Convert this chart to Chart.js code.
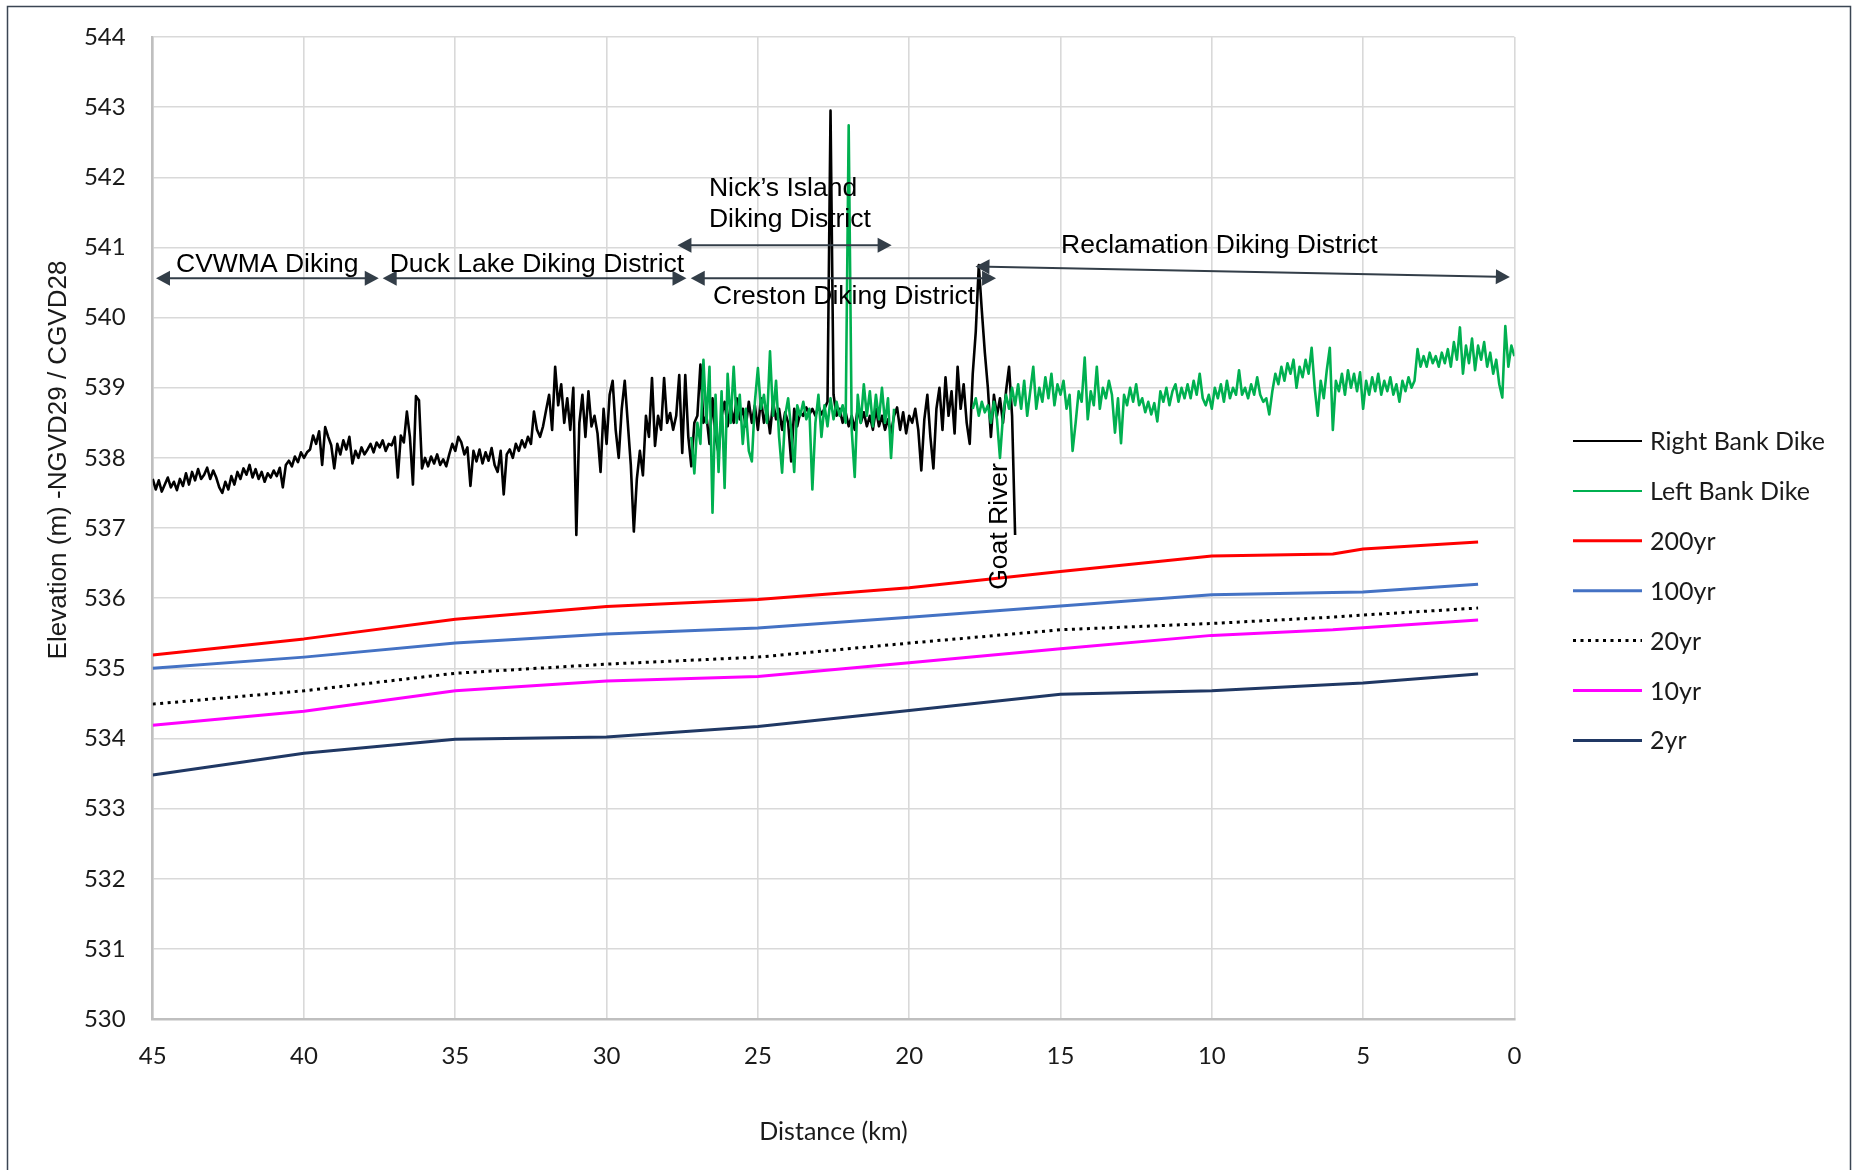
<!DOCTYPE html>
<html>
<head>
<meta charset="utf-8">
<script src="https://cdn.jsdelivr.net/npm/chart.js@4.4.1/dist/chart.umd.min.js"></script>
<style>
html,body{margin:0;padding:0;background:#ffffff;}
#wrap{width:1856px;height:1170px;position:relative;}
canvas{display:block;}
</style>
</head>
<body>
<div id="wrap"><canvas id="c" width="1856" height="1170"></canvas></div>
<script>
// ---------------- DATA ----------------
const seriesNames = ["Right Bank Dike", "Left Bank Dike", "200yr", "100yr", "20yr", "10yr", "2yr"];

// flood profiles (distance in km, elevation in m)
const floodDist = [45, 40, 35, 30, 25, 20, 15, 10, 6, 5, 1.2];
const q200 = [535.19, 535.42, 535.70, 535.88, 535.98, 536.15, 536.38, 536.60, 536.63, 536.70, 536.80];
const q100 = [535.00, 535.16, 535.36, 535.49, 535.575, 535.73, 535.89, 536.05, 536.08, 536.09, 536.20];
const q20  = [534.49, 534.68, 534.93, 535.06, 535.16, 535.36, 535.55, 535.64, 535.73, 535.76, 535.86];
const q10  = [534.19, 534.39, 534.68, 534.82, 534.885, 535.08, 535.28, 535.47, 535.55, 535.58, 535.69];
const q2   = [533.48, 533.79, 533.99, 534.02, 534.17, 534.40, 534.63, 534.68, 534.77, 534.79, 534.92];

// dike crest profiles, sampled every 0.1 km starting at the given distance
const profileStep = 0.1;
const rightBankStart = 45.0;
const rightBankElev = [
537.7, 537.55, 537.68, 537.52, 537.62, 537.72, 537.58, 537.66, 537.54, 537.7, 537.6,
537.78, 537.62, 537.8, 537.68, 537.84, 537.7, 537.76, 537.86, 537.7, 537.82,
537.72, 537.58, 537.5, 537.66, 537.55, 537.74, 537.62, 537.8, 537.7, 537.85,
537.76, 537.9, 537.72, 537.84, 537.7, 537.8, 537.66, 537.78, 537.72, 537.82,
537.74, 537.86, 537.58, 537.9, 537.96, 537.88, 538.02, 537.94, 538.08, 538.0,
538.08, 538.12, 538.32, 538.2, 538.38, 537.9, 538.44, 538.3, 538.18, 537.85,
538.2, 538.05, 538.25, 538.12, 538.3, 537.92, 538.1, 538.0, 538.15, 538.05,
538.12, 538.2, 538.08, 538.22, 538.15, 538.25, 538.1, 538.2, 538.18, 538.3,
537.72, 538.32, 538.22, 538.66, 538.3, 537.62, 538.88, 538.82, 537.85, 538.0,
537.88, 538.02, 537.92, 538.05, 537.9, 537.98, 537.88, 538.05, 538.2, 538.1,
538.3, 538.22, 538.05, 538.15, 537.6, 538.1, 537.95, 538.12, 537.92, 538.08,
537.96, 538.14, 537.9, 537.8, 538.1, 537.48, 538.05, 538.12, 538.0, 538.2,
538.1, 538.25, 538.15, 538.3, 538.2, 538.66, 538.4, 538.3, 538.45, 538.68,
538.9, 538.4, 539.3, 538.75, 539.05, 538.5, 538.85, 538.4, 539.0, 536.9,
538.5, 538.9, 538.3, 538.95, 538.45, 538.6, 538.35, 537.8, 538.7, 538.2,
538.9, 539.1, 538.4, 538.0, 538.7, 539.1, 538.5, 537.9, 536.95, 537.7,
538.1, 537.75, 538.6, 538.3, 539.14, 538.17, 538.6, 538.4, 539.14, 538.5,
538.64, 538.4, 538.6, 539.18, 538.07, 539.18, 538.3, 537.88, 538.5, 538.6,
539.33, 538.5, 538.6, 538.2, 538.85, 538.3, 538.07, 538.6, 538.8, 538.45,
538.75, 538.5, 538.85, 538.55, 538.7, 538.45, 538.8, 538.5, 538.75, 538.4,
538.85, 538.5, 538.7, 538.35, 538.8, 538.55, 538.7, 538.4, 538.65, 538.5,
537.95, 538.7, 538.45, 538.65, 538.6, 538.72, 538.62, 538.7, 538.6, 538.74,
538.62, 538.7, 538.8, 542.95, 538.9, 538.6, 538.7, 538.5, 538.65, 538.45,
538.6, 538.4, 538.7, 538.5, 538.65, 538.45, 538.6, 538.4, 538.7, 538.45,
538.6, 538.4, 538.55, 538.35, 538.6, 538.72, 538.4, 538.65, 538.35, 538.6,
538.5, 538.7, 538.4, 537.82, 538.55, 538.9, 538.3, 537.85, 538.7, 539.0,
538.4, 539.15, 538.6, 538.95, 538.35, 539.3, 538.7, 539.05, 538.5, 538.2,
539.2, 539.8, 540.75, 540.1, 539.5, 539.0, 538.3, 538.9, 538.6, 538.85,
538.5, 538.95, 539.3, 538.6, 536.9
];

const leftBankStart = 27.2;
const leftBankElev = [
538.3, 537.78, 538.5,
538.2, 539.4, 538.5, 539.3, 537.22, 538.9, 537.8, 538.95, 537.57, 539.2,
538.5, 539.3, 538.5, 538.9, 538.2, 538.7, 538.1, 537.95, 538.8, 539.28,
538.7, 538.9, 538.5, 539.52, 538.6, 539.1, 538.3, 537.79, 538.6, 538.85,
538.4, 537.8, 538.75, 538.6, 538.8, 538.55, 538.7, 537.55, 538.5, 538.9,
538.3, 538.75, 538.45, 538.85, 538.55, 538.8, 538.6, 538.75, 538.5, 542.74,
538.4, 537.73, 538.9, 538.5, 539.05, 538.6, 538.95, 538.45, 538.9, 538.55,
539.0, 538.5, 538.85, 538.0, 538.7, null, null, null, null, null,
null, null, null, null, null, null, null, null, null, null,
null, null, null, null, null, null, null, null, null, null,
538.7, 538.85, 538.6, 538.8, 538.65, 538.75, 538.5, 538.8, 538.55, 538.0,
538.6, 538.9, 538.7, 539.0, 538.75, 539.05, 538.7, 539.1, 538.6, 538.95,
539.3, 538.7, 539.0, 538.8, 539.15, 538.85, 539.2, 538.75, 539.05, 538.9,
539.1, 538.7, 538.9, 538.1, 538.5, 538.95, 538.8, 539.43, 538.55, 538.95,
538.75, 539.3, 538.7, 539.0, 538.85, 539.1, 538.9, 538.36, 538.85, 538.21,
538.9, 538.75, 539.0, 538.8, 539.05, 538.75, 538.85, 538.65, 538.8, 538.62,
538.78, 538.52, 538.95, 538.8, 539.0, 538.75, 538.95, 539.05, 538.8, 539.0,
538.85, 539.05, 538.85, 539.1, 538.9, 539.2, 538.85, 538.75, 538.9, 538.7,
539.0, 538.85, 539.05, 538.8, 539.1, 538.85, 539.0, 538.9, 539.25, 538.9,
539.0, 538.85, 539.05, 538.9, 539.15, 538.9, 538.8, 538.85, 538.62, 538.95,
539.2, 539.05, 539.3, 539.1, 539.35, 539.2, 539.4, 539.0, 539.3, 539.15,
539.4, 539.2, 539.57, 539.0, 538.6, 539.1, 538.85, 539.25, 539.57, 538.4,
539.1, 538.95, 539.2, 538.9, 539.25, 539.0, 539.2, 538.95, 539.22, 538.7,
539.1, 538.9, 539.15, 538.95, 539.2, 538.9, 539.1, 538.95, 539.15, 538.9,
539.05, 538.8, 539.1, 538.95, 539.15, 539.0, 539.1, 539.55, 539.3, 539.45,
539.3, 539.5, 539.35, 539.45, 539.3, 539.5, 539.35, 539.55, 539.3, 539.65,
539.4, 539.86, 539.2, 539.6, 539.35, 539.7, 539.25, 539.6, 539.4, 539.65,
539.3, 539.5, 539.2, 539.4, 539.05, 538.86, 539.88, 539.3, 539.6, 539.45
];

// axes
const xMin = 0, xMax = 45, xStep = 5;
const yMin = 530, yMax = 544, yStep = 1;
const xTitle = "Distance (km)";
const yTitle = "Elevation (m) -NGVD29 / CGVD28";

// district annotations (in data units: distance km, elevation m)
const districtArrows = [
  {from: [44.89, 540.56], to: [37.53, 540.56]},
  {from: [37.40, 540.56], to: [27.36, 540.56]},
  {from: [27.66, 541.03], to: [20.58, 541.03]},
  {from: [27.22, 540.56], to: [17.13, 540.56]},
  {from: [17.81, 540.73], to: [0.15, 540.58]}
];
const districtLabels = [
  {text: "CVWMA Diking", at: [44.23, 540.65]},
  {text: "Duck Lake Diking District", at: [37.17, 540.65]},
  {text: "Nick\u2019s Island", at: [26.62, 541.73]},
  {text: "Diking District", at: [26.62, 541.29]},
  {text: "Creston Diking District", at: [26.48, 540.20]},
  {text: "Reclamation Diking District", at: [14.98, 540.92]}
];
const riverLabel = {text: "Goat River", at: [16.77, 536.12]};

// ---------------- BUILD ----------------
function profilePoints(start, step, vals) {
  return vals.map((v, i) => ({x: Math.round((start - i * step) * 100) / 100, y: v}));
}
function floodPoints(vals) {
  return floodDist.map((d, i) => ({x: d, y: vals[i]}));
}

const datasets = [
  {label: seriesNames[0], data: profilePoints(rightBankStart, profileStep, rightBankElev), borderColor: '#000000', borderWidth: 2.6, legendWidth: 2, order: 7},
  {label: seriesNames[1], data: profilePoints(leftBankStart, profileStep, leftBankElev), borderColor: '#00B050', borderWidth: 2.6, legendWidth: 2, order: 6, spanGaps: false},
  {label: seriesNames[2], data: floodPoints(q200), borderColor: '#FF0000', borderWidth: 3, order: 5},
  {label: seriesNames[3], data: floodPoints(q100), borderColor: '#4472C4', borderWidth: 3, order: 4},
  {label: seriesNames[4], data: floodPoints(q20), borderColor: '#000000', borderWidth: 3, borderDash: [3, 4.5], order: 3},
  {label: seriesNames[5], data: floodPoints(q10), borderColor: '#FF00FF', borderWidth: 3, order: 2},
  {label: seriesNames[6], data: floodPoints(q2), borderColor: '#203864', borderWidth: 3, order: 1}
];
datasets.forEach(d => { d.pointRadius = 0; d.pointHoverRadius = 0; d.tension = 0; d.fill = false; d.borderJoinStyle = 'round'; });

const annoColor = '#333E48';
const annoFont = '26.5px "Liberation Sans", Arial, sans-serif';

function drawArrow(ctx, x1, y1, x2, y2) {
  const ang = Math.atan2(y2 - y1, x2 - x1);
  const hl = 14, hw = 7.5;
  const c = Math.cos(ang), s = Math.sin(ang);
  ctx.beginPath();
  ctx.moveTo(x1 + c * (hl - 1), y1 + s * (hl - 1));
  ctx.lineTo(x2 - c * (hl - 1), y2 - s * (hl - 1));
  ctx.lineWidth = 2;
  ctx.strokeStyle = annoColor;
  ctx.stroke();
  ctx.fillStyle = annoColor;
  ctx.beginPath();
  ctx.moveTo(x2, y2);
  ctx.lineTo(x2 - c * hl - s * hw, y2 - s * hl + c * hw);
  ctx.lineTo(x2 - c * hl + s * hw, y2 - s * hl - c * hw);
  ctx.closePath();
  ctx.fill();
  ctx.beginPath();
  ctx.moveTo(x1, y1);
  ctx.lineTo(x1 + c * hl - s * hw, y1 + s * hl + c * hw);
  ctx.lineTo(x1 + c * hl + s * hw, y1 + s * hl - c * hw);
  ctx.closePath();
  ctx.fill();
}

const decoPlugin = {
  id: 'deco',
  beforeDraw(chart) {
    const ctx = chart.ctx;
    ctx.save();
    ctx.fillStyle = '#ffffff';
    ctx.fillRect(0, 0, chart.width, chart.height);
    ctx.strokeStyle = '#3B4653';
    ctx.lineWidth = 1.5;
    ctx.strokeRect(7.5, 6.5, 1843, 1200);
    ctx.restore();
  },
  afterDatasetsDraw(chart) {
    const ctx = chart.ctx;
    const xs = chart.scales.x, ys = chart.scales.y;
    ctx.save();
    districtArrows.forEach(a => {
      drawArrow(ctx, xs.getPixelForValue(a.from[0]), ys.getPixelForValue(a.from[1]),
                     xs.getPixelForValue(a.to[0]), ys.getPixelForValue(a.to[1]));
    });
    ctx.fillStyle = '#000000';
    ctx.font = annoFont;
    ctx.textAlign = 'left';
    ctx.textBaseline = 'alphabetic';
    districtLabels.forEach(l => {
      ctx.fillText(l.text, xs.getPixelForValue(l.at[0]), ys.getPixelForValue(l.at[1]));
    });
    ctx.translate(xs.getPixelForValue(riverLabel.at[0]), ys.getPixelForValue(riverLabel.at[1]));
    ctx.rotate(-Math.PI / 2);
    ctx.fillText(riverLabel.text, 0, 0);
    ctx.restore();
  },
  afterDraw(chart) {
    const ctx = chart.ctx;
    ctx.save();
    ctx.translate(59, 460);
    ctx.rotate(-Math.PI / 2);
    ctx.fillStyle = '#1a1a1a';
    ctx.font = '26px "Liberation Sans", Arial, sans-serif';
    ctx.textAlign = 'center';
    ctx.textBaseline = 'middle';
    ctx.fillText(yTitle, 0, 0);
    ctx.restore();
    ctx.save();
    const lx0 = 1573, lx1 = 1642, tx = 1650, ly0 = 441, lgap = 49.9;
    chart.data.datasets.forEach((d, i) => {
      const yy = ly0 + i * lgap;
      ctx.beginPath();
      ctx.setLineDash(d.borderDash || []);
      ctx.strokeStyle = d.borderColor;
      ctx.lineWidth = d.legendWidth || d.borderWidth;
      ctx.moveTo(lx0, yy);
      ctx.lineTo(lx1, yy);
      ctx.stroke();
      ctx.setLineDash([]);
      ctx.fillStyle = '#1a1a1a';
      ctx.font = '25px Lato, "Open Sans", sans-serif';
      ctx.textAlign = 'left';
      ctx.textBaseline = 'middle';
      ctx.fillText(d.label, tx, yy + 1);
    });
    ctx.restore();
  }
};

function build() {
  new Chart(document.getElementById('c'), {
    type: 'line',
    data: {datasets},
    options: {
      responsive: false,
      devicePixelRatio: 1,
      animation: false,
      events: [],
      layout: {padding: {left: 0, top: 37, right: 341.6, bottom: 0}},
      plugins: {legend: {display: false}, tooltip: {enabled: false}, title: {display: false}},
      scales: {
        x: {
          type: 'linear', reverse: true, min: xMin, max: xMax,
          ticks: {stepSize: xStep, color: '#1a1a1a', font: {family: 'Lato', size: 24}, padding: 23, maxRotation: 0, autoSkip: false},
          grid: {color: '#D9D9D9', lineWidth: 1.6, drawTicks: false},
          border: {display: true, color: '#BFBFBF', width: 2.5},
          title: {display: true, text: xTitle, color: '#1a1a1a', font: {family: 'Lato', size: 25}, padding: {top: 4, bottom: 23}},
          afterFit: (s) => { s.height = 150.9; }
        },
        y: {
          type: 'linear', min: yMin, max: yMax,
          ticks: {stepSize: yStep, color: '#1a1a1a', font: {family: 'Lato', size: 24}, padding: 27},
          grid: {color: '#D9D9D9', lineWidth: 1.6, drawTicks: false},
          border: {display: true, color: '#BFBFBF', width: 2.5},
          afterFit: (s) => { s.width = 152.7; s.paddingTop = 0; s.paddingBottom = 0; }
        }
      }
    },
    plugins: [decoPlugin]
  });
}
if (document.fonts && document.fonts.ready) { document.fonts.ready.then(build); } else { build(); }
</script>
</body>
</html>
